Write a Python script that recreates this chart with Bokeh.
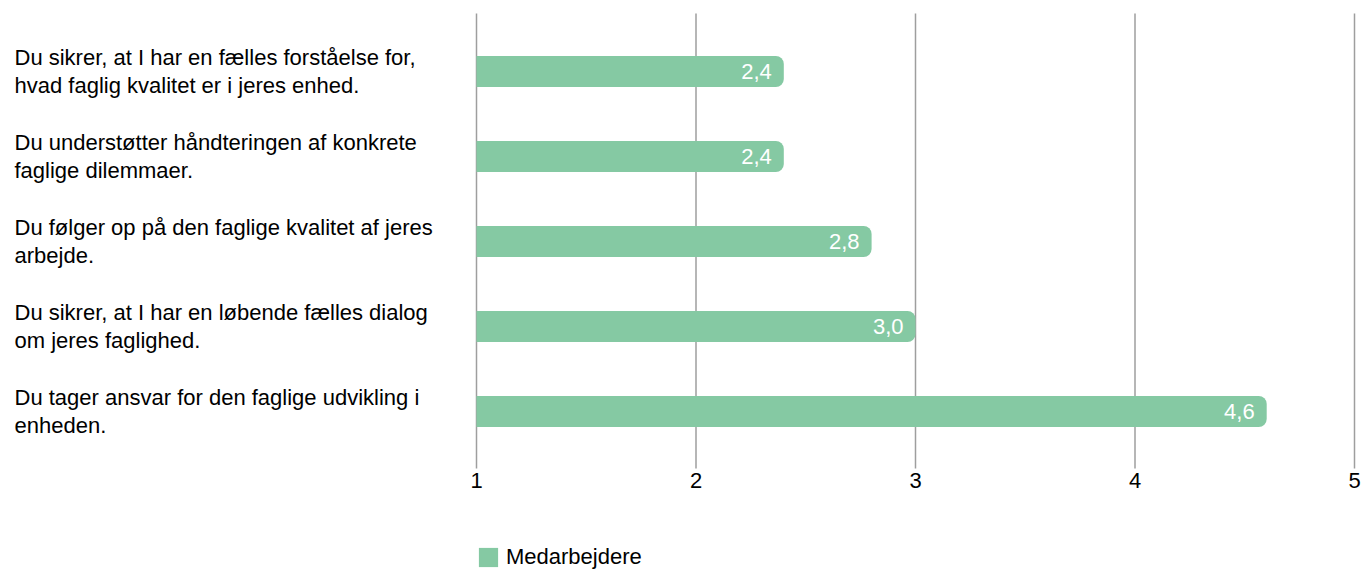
from bokeh.plotting import figure
from bokeh.models import ColumnDataSource, Range1d, Legend, LegendItem
from bokeh.core.properties import value
from bokeh.embed import file_html
from bokeh.resources import INLINE

categories = [
    "Du sikrer, at I har en fælles forståelse for,\nhvad faglig kvalitet er i jeres enhed.",
    "Du understøtter håndteringen af konkrete\nfaglige dilemmaer.",
    "Du følger op på den faglige kvalitet af jeres\narbejde.",
    "Du sikrer, at I har en løbende fælles dialog\nom jeres faglighed.",
    "Du tager ansvar for den faglige udvikling i\nenheden.",
]
values = [2.4, 2.4, 2.8, 3.0, 4.6]
ticks = [1, 2, 3, 4, 5]
tick_labels = ["1", "2", "3", "4", "5"]
series_name = "Medarbejdere"

FONT = "Liberation Sans"
FS = "22px"
BAR_COLOR = "#85c9a3"
GRID_COLOR = "#9e9e9e"

W, H = 1362, 570
AXIS_LEFT_PX, AXIS_RIGHT_PX = 476, 1354
GRID_TOP, GRID_BOTTOM = 13, 468
TICK_LABEL_PX = 480
ROW0_PX, ROW_STEP_PX = 71, 85

scale = (AXIS_RIGHT_PX - AXIS_LEFT_PX) / (ticks[-1] - ticks[0])
x_start = ticks[0] - AXIS_LEFT_PX / scale
x_end = ticks[-1] + (W - AXIS_RIGHT_PX) / scale


def y_of(px):
    return (px - ROW0_PX) / ROW_STEP_PX


idx = list(range(len(categories)))
src = ColumnDataSource(dict(
    y=idx,
    left=[ticks[0]] * len(values),
    right=values,
    lab=[f"{v:.1f}".replace(".", ",") for v in values],
    cat=categories,
    cx=[x_start + 14 / scale] * len(values),
))
tsrc = ColumnDataSource(dict(
    x=ticks, lab=tick_labels,
    y0=[y_of(GRID_TOP)] * len(ticks), y1=[y_of(GRID_BOTTOM)] * len(ticks),
    ty=[y_of(TICK_LABEL_PX)] * len(ticks),
))

p = figure(width=W, height=H, output_backend="svg", toolbar_location=None,
           x_range=Range1d(x_start, x_end), y_range=Range1d(y_of(H), y_of(0)),
           min_border=0)
p.outline_line_color = None
p.background_fill_color = "white"
p.border_fill_color = "white"
p.axis.visible = False
p.grid.grid_line_color = None

p.segment(x0="x", x1="x", y0="y0", y1="y1", source=tsrc,
          line_color=GRID_COLOR, line_width=1.5)
p.text(x="x", y="ty", text="lab", source=tsrc, text_align="center",
       text_baseline="middle", text_color="#000000",
       text_font=value(FONT), text_font_size=FS)

r = p.hbar(y="y", left="left", right="right", height=31 / ROW_STEP_PX, source=src,
           fill_color=BAR_COLOR, line_color=None, border_radius=(0, 8, 8, 0))

p.text(x="right", y="y", text="lab", source=src, x_offset=-12,
       text_align="right", text_baseline="middle", text_color="white",
       text_font=value(FONT), text_font_size=FS)

p.text(x="cx", y="y", text="cat", source=src,
       text_align="left", text_baseline="middle", text_color="#000000",
       text_font=value(FONT), text_font_size=FS, text_line_height=1.1)

legend = Legend(items=[LegendItem(label=series_name, renderers=[r])],
                location=(AXIS_LEFT_PX, 0), orientation="horizontal",
                padding=0, margin=0, spacing=0, border_line_color=None,
                background_fill_alpha=0, glyph_width=24, glyph_height=24,
                label_standoff=6, label_text_font=FONT, label_text_font_size=FS,
                label_text_color="#000000")
p.add_layout(legend, "center")

open("out.html", "w").write(file_html(p, INLINE))
